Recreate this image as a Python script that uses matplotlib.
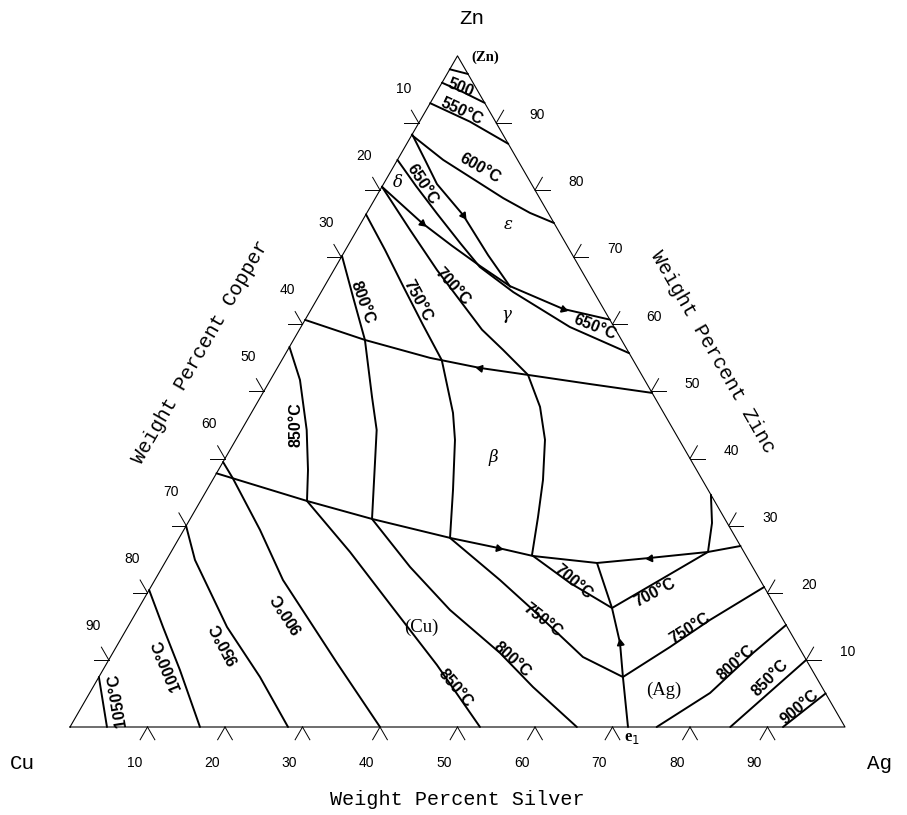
import numpy as np
import matplotlib
matplotlib.use("Agg")
import matplotlib.pyplot as plt
from matplotlib import font_manager

S3 = np.sqrt(3) / 2

# ---------------- data: compositions as (wt% Ag, wt% Zn); Cu = 100 - Ag - Zn
# liquidus isotherms
iso_zn = [(0, 98.0), (2.7, 97.3)]
iso_500 = [(0, 96.0), (3.4, 94.6), (7.0, 93.0)]
iso_550 = [(0, 92.95), (6.5, 90.2), (13.1, 86.9)]
iso_600 = [(0, 88.2), (5.9, 84.5), (16.5, 78.8), (21.05, 76.6), (24.9, 75.1)]
iso_650 = [(0, 84.5), (4.35, 80.6), (9.1, 76.5), (14.3, 72.1), (18.6, 68.55),
           (24.8, 64.8), (34.7, 59.6), (44.3, 55.7)]
iso_700 = [(0, 80.5), (6.84, 74.07), (13.3, 68.1), (23.56, 59.2), (27.77, 56.2),
           (32.87, 52.46), (36.8, 47.7), (39.89, 42.8), (42.63, 36.8), (44.74, 31.3),
           (46.81, 25.6), (53.79, 21.46), (61.07, 17.73), (65.18, 21.9), (69.28, 26.08),
           (67.64, 30.4), (65.4, 34.6)]
iso_750 = [(0, 76.38), (5.1, 71.09), (10.39, 65.42), (15.6, 59.9), (20.65, 54.65),
           (26.02, 46.8), (28.29, 42.77), (31.76, 35.32), (34.95, 28.17),
           (44.53, 21.9), (51.02, 17.44), (60.97, 10.43), (67.62, 7.45), (71.46, 11.92),
           (74.6, 15.95), (79.14, 20.86)]
iso_800_cu = [(0, 70.19), (4.48, 64.08), (9.22, 57.67), (14.38, 49.18), (17.44, 44.26),
              (19.68, 39.34), (23.47, 31.0), (31.95, 23.85), (40.31, 17.44), (49.97, 11.03),
              (56.76, 5.96), (65.4, 0)]
iso_800_ag = [(75.7, 0), (80.05, 5.07), (82.62, 11.03), (84.8, 15.2)]
iso_850_cu = [(0, 56.63), (3.82, 51.71), (8.41, 44.26), (11.56, 38.3), (13.74, 33.68),
              (23.09, 26.08), (32.81, 17.73), (42.73, 9.24), (52.9, 0)]
iso_850_ag = [(85.2, 0), (90.0, 10.0)]
iso_900_cu = [(0, 39.49), (2.48, 37.06), (9.84, 29.36), (16.53, 21.9), (29.68, 9.54),
              (40.0, 0)]
iso_900_ag = [(92.0, 0), (95.0, 5.0)]
iso_950 = [(0, 29.96), (3.68, 24.89), (12.81, 14.9), (20.79, 7.45), (28.13, 0)]
iso_1000 = [(0, 20.42), (4.55, 14.9), (9.94, 8.49), (16.77, 0)]
iso_1050 = [(0, 7.45), (4.77, 0)]

# monovariant (phase boundary) lines
bnd_eps_gam = [(0, 88.3), (3.56, 84.5), (6.9, 80.9), (12.56, 76.3), (18.8, 70.3), (24.0, 65.6)]
bnd_delta = [(0, 80.5), (7.87, 75.1), (13.44, 71.7), (18.55, 68.7), (23.9, 65.7),
             (32.46, 62.3), (39.3, 60.7)]
bnd_beta_top = [(0, 60.66), (9.22, 57.67), (18.95, 55.0), (26.15, 53.5), (32.87, 52.46),
                (41.55, 51.1), (50.22, 49.78)]
bnd_beta_low = [(0, 37.8), (13.74, 33.68), (23.47, 31.0), (35.19, 28.12), (41.89, 26.68),
                (47.0, 25.48), (55.78, 24.44), (62.24, 25.19), (69.28, 26.08), (73.03, 26.97)]
bnd_eutectic = [(55.78, 24.44), (61.07, 17.73), (64.71, 12.52), (67.62, 7.45), (72.0, 0)]

isotherms = [iso_zn, iso_500, iso_550, iso_600, iso_650, iso_700, iso_750,
             iso_800_cu, iso_800_ag, iso_850_cu, iso_850_ag, iso_900_cu, iso_900_ag,
             iso_950, iso_1000, iso_1050]
boundaries = [bnd_eps_gam, bnd_delta, bnd_beta_top, bnd_beta_low, bnd_eutectic]

# arrows: (curve, point index, +1 forward / -1 backward)
arrows = [(bnd_eps_gam, 3, 1), (bnd_delta, 1, 1), (bnd_delta, 5, 1),
          (bnd_beta_top, 3, -1), (bnd_beta_low, 4, 1), (bnd_beta_low, 7, -1),
          (bnd_eutectic, 2, -1)]

ticks = [10, 20, 30, 40, 50, 60, 70, 80, 90]

# isotherm labels: text, Ag, Zn, rotation
iso_labels = [("500", 2.85, 95.2, -22), ("550°C", 4.77, 91.65, -25),
              ("600°C", 11.25, 83.3, -30), ("650°C", 4.97, 80.9, -57),
              ("700°C", 16.63, 65.57, -48), ("750°C", 13.1, 63.6, -62),
              ("800°C", 6.08, 63.2, -70), ("850°C", 6.66, 45.0, 90),
              ("650°C", 37.94, 59.6, -22),
              ("700°C", 54.1, 21.6, -40), ("750°C", 53.06, 15.95, -38),
              ("800°C", 52.03, 9.99, -42), ("850°C", 46.78, 5.81, -50),
              ("900°C", 19.63, 16.99, 123), ("950°C", 13.74, 12.52, 118),
              ("1000°C", 7.9, 9.24, 112), ("1050°C", 4.05, 4.02, 99),
              ("700°C", 65.5, 19.97, 28), ("750°C", 72.6, 14.75, 32),
              ("800°C", 81.17, 9.54, 42), ("850°C", 86.67, 7.3, 45),
              ("900°C", 92.7, 2.98, 40)]
phase_labels = [("ε", 19.1, 74.8), ("δ", 1.72, 81.2), ("γ", 25.65, 61.4), ("β", 34.48, 40.2)]
region_labels = [("(Cu)", 37.84, 14.9), ("(Ag)", 73.89, 5.51)]


def tern(ag, zn):
    ag = np.asarray(ag, float)
    zn = np.asarray(zn, float)
    return ag + zn / 2.0, zn * S3


avail = {f.name for f in font_manager.fontManager.ttflist}
sans = 'Liberation Sans' if 'Liberation Sans' in avail else 'DejaVu Sans'
mono = 'Liberation Mono' if 'Liberation Mono' in avail else 'DejaVu Sans Mono'
serif = 'Liberation Serif' if 'Liberation Serif' in avail else 'DejaVu Serif'

fig = plt.figure(figsize=(9.07, 8.15), dpi=100)
ax = fig.add_axes([0, 0, 1, 1])
ax.set_xlim(-9.032, 108.0)
ax.set_ylim(-11.355, 93.81)
ax.axis('off')

# triangle frame
fx, fy = tern([0, 100, 0, 0], [0, 0, 100, 0])
ax.plot(fx, fy, color='k', lw=0.8)

# ticks
L = 1.9
for v in ticks:
    x, y = tern(v, 0)
    for a in (240, 300):
        ax.plot([x, x + L * np.cos(np.radians(a))], [y, y + L * np.sin(np.radians(a))], color='k', lw=0.7)
    ax.text(x - 1.7, y - 4.6, str(v), fontsize=10, family=sans, ha='center', va='center')
    x, y = tern(0, 100 - v)
    for a in (180, 120):
        ax.plot([x, x + L * np.cos(np.radians(a))], [y, y + L * np.sin(np.radians(a))], color='k', lw=0.7)
    ax.text(x - 2.0, y + 4.4, str(v), fontsize=10, family=sans, ha='center', va='center')
    x, y = tern(100 - v, v)
    for a in (0, 60):
        ax.plot([x, x + L * np.cos(np.radians(a))], [y, y + L * np.sin(np.radians(a))], color='k', lw=0.7)
    ax.text(x + 5.3, y + 1.0, str(v), fontsize=10, family=sans, ha='center', va='center')

for c in isotherms + boundaries:
    a = np.array(c)
    x, y = tern(a[:, 0], a[:, 1])
    ax.plot(x, y, color='k', lw=1.4, solid_joinstyle='round', solid_capstyle='round')

for c, i, d in arrows:
    a = np.array(c)
    x, y = tern(a[:, 0], a[:, 1])
    j0, j1 = max(i - 1, 0), min(i + 1, len(a) - 1)
    ang = np.degrees(np.arctan2(y[j1] - y[j0], x[j1] - x[j0]))
    if d < 0:
        ang += 180
    ax.plot(x[i], y[i], marker=(3, 0, ang - 90), ms=5.5, color='k', mec='k')

for t, ag, zn, r in iso_labels:
    x, y = tern(ag, zn)
    ax.text(x, y, t, fontsize=11.5, family=sans, weight='bold', rotation=r,
            rotation_mode='anchor', ha='center', va='center')

for t, ag, zn in phase_labels:
    x, y = tern(ag, zn)
    ax.text(x, y, t, fontsize=12, family='DejaVu Serif', style='italic', ha='center', va='center')

for t, ag, zn in region_labels:
    x, y = tern(ag, zn)
    ax.text(x, y, t, fontsize=13.5, family=serif, ha='center', va='center')

x, y = tern(3.6, 99.85)
ax.text(x, y, "(Zn)", fontsize=10.5, family=serif, weight='bold', ha='center', va='center')
x, y = tern(73.3, -1.64)
ax.text(x, y, "e$_1$", fontsize=12, family=serif, weight='bold', ha='center', va='center')

# corner labels
ax.text((472 - 70) / 7.75, (727 - 18) / 7.75, "Zn", fontsize=15, family=mono, ha='center', va='center')
ax.text((22 - 70) / 7.75, (727 - 763) / 7.75, "Cu", fontsize=15, family=mono, ha='center', va='center')
ax.text((880 - 70) / 7.75, (727 - 763) / 7.75, "Ag", fontsize=15, family=mono, ha='center', va='center')

# axis titles
ax.text(50, (727 - 800) / 7.75, "Weight Percent Silver", fontsize=14.5, family=mono,
        ha='center', va='center')
ax.text((200 - 70) / 7.75, (727 - 352) / 7.75, "Weight Percent Copper", fontsize=14.5, family=mono,
        rotation=60, rotation_mode='anchor', ha='center', va='center')
ax.text((713 - 70) / 7.75, (727 - 352) / 7.75, "Weight Percent Zinc", fontsize=14.5, family=mono,
        rotation=-60, rotation_mode='anchor', ha='center', va='center')

fig.savefig("out.png", dpi=100, facecolor='white')
